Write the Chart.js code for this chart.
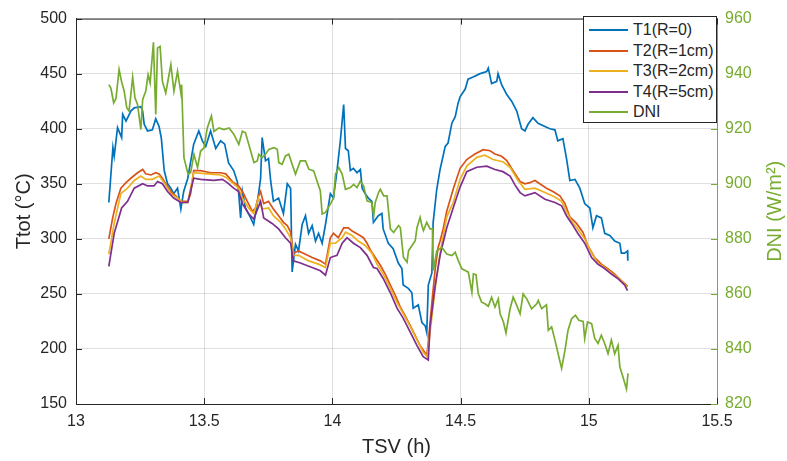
<!DOCTYPE html>
<html>
<head>
<meta charset="utf-8">
<script src="https://cdn.jsdelivr.net/npm/chart.js@4.4.1/dist/chart.umd.min.js"></script>
<style>
  body { margin: 0; background: #fff; }
  #wrap { position: relative; width: 787px; height: 461px; }
  #legend {
    position: absolute; left: 583px; top: 16px; width: 134px; height: 107px;
    box-sizing: border-box; border: 1px solid #262626; background: #fff;
    font: 16px "Liberation Sans", Arial, sans-serif; color: #262626;
  }
  .row { position: absolute; left: 0; height: 20px; line-height: 20px; white-space: nowrap; }
  .row i { position: absolute; left: 5px; top: 9px; width: 39px; height: 2px; }
  .row span { position: absolute; left: 49px; top: 0; }
</style>
</head>
<body>
<div id="wrap">
  <canvas id="chart" width="787" height="461"></canvas>
  <div id="legend"></div>
</div>
<script>
// T1 (R=0)
const t1Time = [13.128,13.144,13.149,13.162,13.178,13.182,13.195,13.214,13.227,13.253,
  13.260,13.266,13.279,13.298,13.311,13.324,13.333,13.344,13.357,13.370,
  13.381,13.396,13.409,13.420,13.436,13.459,13.479,13.493,13.506,13.525,
  13.545,13.564,13.580,13.595,13.615,13.629,13.634,13.642,13.649,13.661,
  13.681,13.693,13.707,13.720,13.726,13.739,13.751,13.759,13.770,13.790,
  13.809,13.824,13.837,13.843,13.856,13.868,13.882,13.895,13.907,13.921,
  13.934,13.946,13.960,13.973,13.992,14.004,14.018,14.031,14.044,14.051,
  14.062,14.070,14.082,14.096,14.109,14.116,14.128,14.140,14.154,14.160,
  14.179,14.193,14.198,14.218,14.237,14.257,14.271,14.276,14.296,14.310,
  14.315,14.335,14.349,14.362,14.368,14.374,14.388,14.393,14.407,14.420,
  14.440,14.451,14.466,14.479,14.490,14.498,14.518,14.529,14.549,14.576,
  14.602,14.608,14.621,14.641,14.646,14.660,14.680,14.699,14.719,14.738,
  14.751,14.763,14.782,14.802,14.829,14.848,14.868,14.879,14.899,14.913,
  14.926,14.946,14.965,14.984,15.004,15.016,15.030,15.049,15.062,15.082,
  15.101,15.121,15.127,15.140,15.151,15.152];
const t1Temp = [333,383,375,401,392,413,407,416,419,420,
  416,404,398,399,409,402,391,362,350,346,
  341,346,327,343,355,386,398,389,384,398,
  382,389,386,369,362,352,343,319,343,328,
  319,313,332,355,392,371,373,353,334,337,
  323,350,346,270,295,289,313,321,305,312,
  298,305,296,313,341,337,362,389,422,382,
  380,362,364,360,363,346,341,337,334,315,
  321,323,309,296,291,278,273,258,255,251,
  237,240,224,221,215,258,269,315,345,363,
  384,387,405,411,423,429,436,445,447,450,
  452,455,441,443,450,440,431,425,416,400,
  398,404,410,405,402,400,399,389,391,373,
  353,354,346,332,328,310,321,319,305,303,
  298,296,287,287,289,280];

// T2 (R=1cm)
const t2Time = [13.128,13.143,13.156,13.175,13.195,13.214,13.240,13.260,13.272,13.292,
  13.311,13.324,13.337,13.350,13.370,13.389,13.409,13.436,13.447,13.459,
  13.486,13.525,13.564,13.584,13.610,13.634,13.649,13.668,13.688,13.700,
  13.712,13.720,13.732,13.751,13.770,13.790,13.809,13.824,13.837,13.848,
  13.868,13.895,13.921,13.953,13.973,13.992,14.004,14.023,14.044,14.062,
  14.077,14.101,14.121,14.135,14.148,14.167,14.187,14.206,14.226,14.245,
  14.265,14.284,14.304,14.323,14.342,14.354,14.368,14.374,14.388,14.401,
  14.412,14.420,14.432,14.446,14.471,14.498,14.524,14.556,14.588,14.615,
  14.634,14.660,14.680,14.704,14.732,14.751,14.770,14.790,14.809,14.835,
  14.860,14.887,14.907,14.926,14.952,14.977,14.996,15.023,15.049,15.074,
  15.101,15.127,15.151];
const t2Temp = [300,319,332,346,351,355,360,363,359,358,
  360,359,355,350,343,339,334,334,341,362,
  362,360,360,359,352,348,343,334,325,328,
  339,343,332,334,327,321,315,312,306,287,
  289,286,283,280,277,301,305,301,310,310,
  307,304,301,296,290,283,276,268,258,249,
  238,230,221,212,203,199,194,206,242,273,
  292,298,309,325,345,364,372,377,381,380,
  377,375,371,362,352,350,351,353,350,346,
  343,339,332,320,314,306,294,283,277,273,
  268,262,257];

// T3 (R=2cm)
const t3Time = [13.128,13.149,13.175,13.201,13.227,13.253,13.272,13.298,13.324,13.344,
  13.370,13.396,13.415,13.436,13.459,13.512,13.564,13.584,13.615,13.634,
  13.649,13.673,13.693,13.712,13.726,13.751,13.770,13.798,13.817,13.837,
  13.848,13.868,13.907,13.946,13.973,13.992,14.012,14.038,14.051,14.077,
  14.101,14.128,14.154,14.174,14.198,14.226,14.252,14.276,14.304,14.330,
  14.354,14.370,14.381,14.401,14.420,14.446,14.471,14.498,14.524,14.563,
  14.595,14.626,14.665,14.693,14.724,14.751,14.790,14.829,14.868,14.894,
  14.913,14.933,14.957,14.984,15.011,15.035,15.062,15.088,15.113,15.140,
  15.151];
const t3Temp = [286,314,341,346,353,357,354,354,357,351,
  341,337,333,333,360,359,358,356,350,346,
  337,328,323,337,327,328,321,315,309,301,
  285,285,280,277,274,296,296,301,306,303,
  298,294,287,277,268,255,242,232,220,208,
  197,193,215,255,287,320,333,354,366,374,
  376,372,370,365,353,345,346,342,338,334,
  325,316,309,300,287,278,274,269,265,259,
  256];

// T4 (R=5cm)
const t4Time = [13.128,13.149,13.178,13.201,13.227,13.260,13.279,13.304,13.318,13.337,
  13.357,13.381,13.409,13.436,13.459,13.486,13.537,13.571,13.590,13.615,
  13.634,13.649,13.673,13.693,13.720,13.732,13.765,13.790,13.817,13.837,
  13.848,13.875,13.921,13.953,13.973,13.992,14.018,14.038,14.057,14.082,
  14.109,14.135,14.160,14.174,14.198,14.226,14.252,14.276,14.304,14.330,
  14.354,14.374,14.381,14.401,14.420,14.446,14.471,14.498,14.524,14.563,
  14.602,14.634,14.665,14.693,14.712,14.732,14.751,14.790,14.829,14.868,
  14.894,14.913,14.933,14.957,14.984,15.011,15.035,15.062,15.088,15.113,
  15.140,15.151];
const t4Temp = [275,305,328,334,346,350,348,348,352,350,
  343,337,333,333,355,354,353,354,351,346,
  343,332,323,318,334,319,314,309,301,296,
  280,278,274,271,267,283,285,296,301,296,
  292,285,274,273,264,251,237,228,215,203,
  193,190,221,258,285,310,328,347,361,365,
  366,363,361,357,349,342,339,342,336,333,
  330,321,314,305,296,283,277,273,268,264,
  258,253];

// DNI (W/m2), right axis
const dniTime = [13.128,13.136,13.147,13.156,13.168,13.178,13.188,13.198,13.207,13.221,
  13.230,13.240,13.253,13.260,13.272,13.281,13.289,13.302,13.311,13.318,
  13.328,13.337,13.350,13.370,13.382,13.396,13.409,13.412,13.421,13.437,
  13.447,13.460,13.474,13.486,13.499,13.512,13.528,13.538,13.558,13.577,
  13.597,13.616,13.635,13.649,13.661,13.674,13.694,13.707,13.713,13.726,
  13.739,13.752,13.772,13.785,13.791,13.804,13.817,13.830,13.843,13.856,
  13.875,13.895,13.908,13.927,13.940,13.953,13.960,13.973,13.992,14.005,
  14.012,14.025,14.038,14.051,14.070,14.083,14.096,14.109,14.122,14.135,
  14.154,14.161,14.167,14.180,14.187,14.200,14.213,14.226,14.239,14.258,
  14.265,14.277,14.291,14.297,14.310,14.323,14.330,14.342,14.349,14.355,
  14.368,14.381,14.390,14.394,14.407,14.427,14.446,14.466,14.479,14.491,
  14.505,14.518,14.530,14.544,14.550,14.560,14.569,14.582,14.595,14.608,
  14.621,14.634,14.647,14.654,14.667,14.677,14.693,14.705,14.719,14.732,
  14.744,14.758,14.777,14.797,14.803,14.816,14.835,14.842,14.855,14.868,
  14.881,14.894,14.907,14.919,14.933,14.948,14.961,14.978,14.984,14.995,
  15.011,15.023,15.036,15.049,15.062,15.075,15.088,15.101,15.114,15.121,
  15.133,15.147,15.153];
const dniValue = [936,934.8,929.4,931,941.5,937,933.6,927.6,926.4,938.7,
  931.2,928.8,919.7,930.6,933.6,939.6,936.6,951.4,925.2,949.3,
  949.9,937.2,933,943.3,933.6,940.8,933,936,909.5,903.5,
  904,910.7,905.9,911.9,913,920.3,924.6,919,920.3,919.7,
  920.3,917.9,914.3,919.1,918.5,914.3,907.7,908.3,910.7,909.5,
  910.7,912.5,913.1,912.5,907.7,907.1,910.1,910.7,907.1,903.5,
  908.3,908.3,905.3,904.7,901,897.4,889,889.6,892.6,895,
  903.5,905.9,903.5,898,898.6,899.8,898.6,901,899.2,893.8,
  893.2,888.4,893.2,896.8,898,895.6,895.6,883.6,882.3,884.8,
  884.1,873.3,871.5,875.7,877.5,879.3,884.1,887.8,884.8,883,
  886,883.6,883.6,868.5,875.7,876.9,874.5,873.9,875.1,872.1,
  869.1,868.5,867.9,860.6,867.3,867,860,857,856.4,855.5,
  858.8,855.2,858.2,852.8,849.8,845.8,854.6,858.8,855.8,852.8,
  860,858.2,854.6,856.4,857.6,854.6,856,846.8,848,843.2,
  838,832.9,839.5,846.8,851,852.2,850.4,850,843.8,849.8,
  849.2,843.8,842,845,842,838.3,843.2,838.3,841.3,833.5,
  829.9,825.4,831.1];

const seriesLabels = ["T1(R=0)", "T2(R=1cm)", "T3(R=2cm)", "T4(R=5cm)", "DNI"];
const seriesColors = ["#0072BD", "#D95319", "#EDB120", "#7E2F8E", "#77AC30"];

const xTicks = [13, 13.5, 14, 14.5, 15, 15.5];
const leftTicks = [150, 200, 250, 300, 350, 400, 450, 500];
const rightTicks = [820, 840, 860, 880, 900, 920, 940, 960];

const FONT = '"Liberation Sans", Arial, Helvetica, sans-serif';
const INK = "#262626";
const GREEN = seriesColors[4];

function pairs(xs, ys) {
  return xs.map((x, i) => ({ x: x, y: ys[i] }));
}

const frame = {
  id: "frame",
  afterDraw(chart) {
    const { ctx, chartArea: a, scales } = chart;
    ctx.save();
    ctx.lineWidth = 1;
    ctx.strokeStyle = INK;
    ctx.beginPath();
    ctx.moveTo(a.left, a.top + 0.5);
    ctx.lineTo(a.right, a.top + 0.5);
    xTicks.forEach((v) => {
      const px = Math.round(scales.x.getPixelForValue(v)) + 0.5;
      ctx.moveTo(px, a.bottom);
      ctx.lineTo(px, a.bottom - 6);
      ctx.moveTo(px, a.top);
      ctx.lineTo(px, a.top + 6);
    });
    leftTicks.forEach((v) => {
      const py = Math.round(scales.y.getPixelForValue(v)) + 0.5;
      ctx.moveTo(a.left, py);
      ctx.lineTo(a.left + 6, py);
    });
    ctx.stroke();
    ctx.strokeStyle = GREEN;
    ctx.beginPath();
    rightTicks.forEach((v) => {
      const py = Math.round(scales.y1.getPixelForValue(v)) + 0.5;
      ctx.moveTo(a.right, py);
      ctx.lineTo(a.right - 6, py);
    });
    ctx.stroke();
    // right axis title reads bottom to top like MATLAB
    ctx.translate(775, (a.top + a.bottom) / 2);
    ctx.rotate(-Math.PI / 2);
    ctx.fillStyle = GREEN;
    ctx.font = "20px " + FONT;
    ctx.textAlign = "center";
    ctx.textBaseline = "middle";
    ctx.fillText("DNI (W/m\u00B2)", 0, 0);
    ctx.restore();
  },
};

const chart = new Chart(document.getElementById("chart"), {
  type: "line",
  data: {
    datasets: [
      { label: seriesLabels[0], data: pairs(t1Time, t1Temp), borderColor: seriesColors[0], yAxisID: "y", order: 5 },
      { label: seriesLabels[1], data: pairs(t2Time, t2Temp), borderColor: seriesColors[1], yAxisID: "y", order: 4 },
      { label: seriesLabels[2], data: pairs(t3Time, t3Temp), borderColor: seriesColors[2], yAxisID: "y", order: 3 },
      { label: seriesLabels[3], data: pairs(t4Time, t4Temp), borderColor: seriesColors[3], yAxisID: "y", order: 2 },
      { label: seriesLabels[4], data: pairs(dniTime, dniValue), borderColor: seriesColors[4], yAxisID: "y1", order: 1 },
    ],
  },
  options: {
    responsive: false,
    animation: false,
    devicePixelRatio: 1,
    layout: { padding: { top: 17, left: 0, right: 0, bottom: 0 } },
    elements: {
      point: { radius: 0 },
      line: { borderWidth: 1.7, tension: 0, fill: false },
    },
    plugins: { legend: { display: false }, tooltip: { enabled: false } },
    scales: {
      x: {
        type: "linear",
        min: 13,
        max: 15.5,
        afterBuildTicks: (s) => { s.ticks = xTicks.map((v) => ({ value: v })); },
        afterFit: (s) => { s.height = 57; },
        ticks: { font: { size: 16, family: FONT }, color: INK, padding: 8, maxRotation: 0, callback: (v) => String(v) },
        grid: { color: "rgba(38,38,38,0.15)", drawTicks: false },
        border: { color: INK, width: 1 },
        title: { display: true, text: "TSV (h)", font: { size: 20, family: FONT }, color: INK, padding: { top: 0, bottom: 2 } },
      },
      y: {
        position: "left",
        min: 150,
        max: 500,
        afterBuildTicks: (s) => { s.ticks = leftTicks.map((v) => ({ value: v })); },
        afterFit: (s) => { s.width = 76; },
        ticks: { font: { size: 16, family: FONT }, color: INK, padding: 9, callback: (v) => String(v) },
        grid: { color: "rgba(38,38,38,0.15)", drawTicks: false },
        border: { color: INK, width: 1 },
        title: { display: true, text: "Ttot (\u00B0C)", font: { size: 20, family: FONT }, color: INK, padding: { top: 12, bottom: 0 } },
      },
      y1: {
        position: "right",
        min: 820,
        max: 960,
        afterBuildTicks: (s) => { s.ticks = rightTicks.map((v) => ({ value: v })); },
        afterFit: (s) => { s.width = 70; },
        ticks: { font: { size: 16, family: FONT }, color: GREEN, padding: 8, callback: (v) => String(v) },
        grid: { drawOnChartArea: false, drawTicks: false },
        border: { color: GREEN, width: 1 },
      },
    },
  },
  plugins: [frame],
});

// legend box
const legend = document.getElementById("legend");
chart.data.datasets.forEach((ds, i) => {
  const row = document.createElement("div");
  row.className = "row";
  row.style.top = (3 + i * 20.6) + "px";
  row.innerHTML = '<i style="background:' + ds.borderColor + '"></i><span>' + ds.label + "</span>";
  legend.appendChild(row);
});
</script>
</body>
</html>
